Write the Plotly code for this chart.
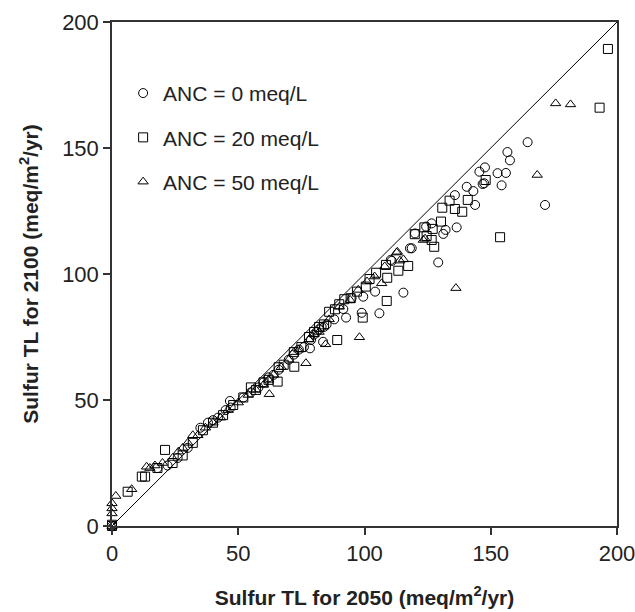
import plotly.graph_objects as go

# ANC = 0 meq/L (circles)
anc0_x = [0, 18, 22, 26, 30, 35, 38, 40, 42, 45, 46.7, 47, 52, 55, 58, 60, 62, 64, 66, 70, 72, 74, 76,
          78.4, 78.8, 80, 81, 82, 83, 83.6, 84, 85, 88, 91.6, 92.7, 94.9, 98.9, 99.5, 104.2, 105.9, 110.4,
          110.8, 115.4, 118, 118.7, 120, 124.4, 126.6, 129.2, 131.2, 132.1, 135.8, 136.5, 140.5, 143.1,
          143.8, 145.5, 146.8, 147.4, 147.7, 152.7, 154.3, 156, 156.6, 157.6, 164.6, 171.5]
anc0_y = [0, 23, 24, 27, 31, 39, 41, 42, 43, 46, 49.6, 47, 51, 53, 55, 57, 59, 60, 62, 66, 68, 70, 71,
          70.5, 73.8, 76, 77, 78, 79, 73.1, 79, 80, 82, 86.1, 82.7, 90.4, 84.6, 91, 93, 84.4, 105.6,
          105.2, 92.6, 110.2, 110.2, 116.1, 118.8, 120.1, 104.6, 115.9, 117.5, 131.3, 118.5, 134.6, 132.9,
          127.4, 140.6, 135.7, 136, 142.3, 140, 135.2, 140.1, 148.4, 145.1, 152.3, 127.4]

# ANC = 20 meq/L (squares)
anc20_x = [0, 0, 6.2, 11.8, 13.1, 21, 18, 24, 28, 32, 36, 40, 44, 48, 52, 55, 57, 60, 62, 65.6, 66, 68,
           72.2, 72, 75, 78, 80, 82, 84, 86, 88.3, 89.2, 90, 92, 94.5, 97, 99.3, 100.5, 102, 104.6, 108.5,
           108.8, 109, 113.4, 117.3, 119.9, 123.7, 124.6, 126.6, 127, 127.6, 130.3, 130.8, 133.7, 135.8,
           138.7, 140.9, 148, 153.7, 193.1, 196.4]
anc20_y = [0, 0.5, 13.6, 19.6, 19.6, 30.2, 23, 25, 28, 33, 38, 41, 44, 48, 51, 55, 54, 57, 58, 57.3, 63, 64,
           63.2, 69, 71, 75, 77, 79, 80, 85, 86, 73.8, 88, 90, 90.4, 93, 82.7, 95, 98, 100.5, 103.6,
           89.3, 98.5, 101.3, 103.2, 115.8, 118.5, 115.1, 113.5, 117.9, 110.8, 120.8, 126.3, 129.1, 125.8,
           124.7, 129.4, 137.3, 114.6, 166, 189.3]

# ANC = 50 meq/L (triangles)
anc50_x = [0, 0, 0, 0, 1.5, 7.8, 13.7, 15, 17, 20, 24, 26.3, 28, 30, 32, 34, 37, 40, 43, 46, 50, 54, 57,
           60, 62, 62.3, 64, 67, 70, 72, 74, 76.8, 78, 80, 82, 84.6, 86, 90, 94.3, 97.5, 98, 101, 104,
           106.8, 108, 112.7, 113, 114, 115.4, 123.3, 124, 136.2, 168.4, 175.7, 181.6]
anc50_y = [0, 5, 7, 9, 11.9, 14.6, 23.5, 23, 24, 25, 27, 29.5, 31, 33, 36, 36, 39, 41, 43, 46, 49, 52, 54,
           56, 58, 52.3, 60, 63, 66, 69, 70, 64.6, 74, 76, 77, 72.1, 82, 87, 89.7, 93.7, 74.9, 97, 99,
           96.3, 103, 108.5, 108.8, 105.3, 105.8, 113.5, 114, 94.4, 139.3, 167.7, 167.3]

line_x = [0, 200]
line_y = [0, 200]

FONT = "Liberation Sans, Arial, sans-serif"

fig = go.Figure()
fig.add_trace(go.Scatter(x=line_x, y=line_y, mode="lines", line=dict(color="black", width=1),
                         showlegend=False, hoverinfo="skip"))

series = [
    ("ANC = 0 meq/L", anc0_x, anc0_y, "circle-open"),
    ("ANC = 20 meq/L", anc20_x, anc20_y, "square-open"),
    ("ANC = 50 meq/L", anc50_x, anc50_y, "triangle-up-open"),
]
for i, (name, xs, ys, sym) in enumerate(series):
    fig.add_trace(go.Scatter(x=xs, y=ys, mode="markers", name=name, legendgroup=f"g{i}",
                             marker=dict(symbol=sym, size=9, color="black", line=dict(width=1, color="black")),
                             cliponaxis=False))

axis_common = dict(range=[0, 200], tickvals=[0, 50, 100, 150, 200], ticks="outside", ticklen=7,
                   tickwidth=1.5, tickcolor="#333", showline=True, linecolor="#333", linewidth=1.5,
                   mirror=True, showgrid=False, zeroline=False, automargin=False,
                   ticklabeloverflow="allow",
                   tickfont=dict(family=FONT, size=22, color="#222"))

fig.update_layout(
    width=635, height=612,
    margin=dict(l=112, r=18, t=22, b=86),
    paper_bgcolor="white", plot_bgcolor="white",
    font=dict(family=FONT, color="#222"),
    xaxis=dict(**axis_common,
               title=dict(text="<b>Sulfur TL for 2050 (meq/m<sup>2</sup>/yr)</b>",
                          font=dict(family=FONT, size=21, color="#222"), standoff=25)),
    yaxis=dict(**axis_common,
               title=dict(text="<b>Sulfur TL for 2100 (meq/m<sup>2</sup>/yr)</b>",
                          font=dict(family=FONT, size=21, color="#222"), standoff=18)),
    legend=dict(x=0.022, y=0.899, xanchor="left", yanchor="top", bgcolor="rgba(0,0,0,0)",
                font=dict(family=FONT, size=21, color="#222"), traceorder="grouped",
                tracegroupgap=14, itemwidth=30),
)

fig.write_html("out.html", config={"displayModeBar": False},
               post_script="document.body.style.margin='0';document.body.style.overflow='hidden';")
